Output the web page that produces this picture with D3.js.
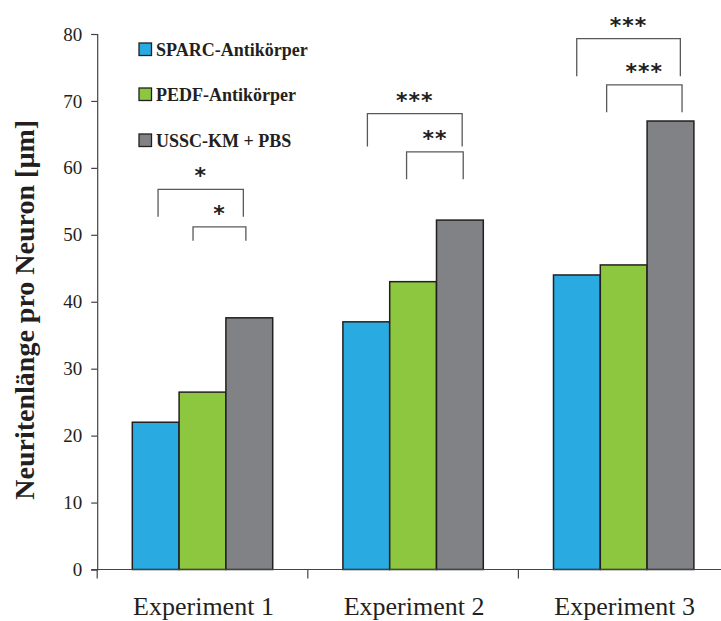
<!DOCTYPE html>
<html><head><meta charset="utf-8">
<script src="https://cdn.jsdelivr.net/npm/d3@7"></script>
<style>body{margin:0;background:#fff}svg{display:block}</style>
</head><body>
<svg id="c" width="721" height="621"></svg>
<script>
const categories = ["Experiment 1", "Experiment 2", "Experiment 3"];
const seriesNames = ["SPARC-Antikörper", "PEDF-Antikörper", "USSC-KM + PBS"];
const sparc = [22, 37, 44];
const pedf = [26.5, 43, 45.5];
const ussc = [37.6, 52.2, 67];
const yTicks = [0, 10, 20, 30, 40, 50, 60, 70, 80];
const yTitle = "Neuritenlänge pro Neuron [µm]";
// significance brackets: category, label, x ends as fraction of band, top value, leg-bottom value
const sigCategory = [0, 0, 1, 1, 2, 2];
const sigLabel = ["*", "*", "***", "**", "***", "***"];
const sigX0 = [0.289, 0.455, 0.283, 0.469, 0.277, 0.419];
const sigX1 = [0.694, 0.706, 0.733, 0.738, 0.769, 0.777];
const sigTop = [56.8, 51.2, 68.1, 62.4, 79.3, 72.4];
const sigBottom = [52.7, 49.1, 63.2, 58.3, 73.7, 68.3];

const colors = ["#29abe2", "#8dc63f", "#808285"];
const series = [sparc, pedf, ussc];

const svg = d3.select("#c");
const x0 = 97.2, y0 = 569.5, yTopPx = 34;
const x = d3.scaleBand().domain(categories).range([x0, x0 + 3 * 210.6]).paddingInner(0).paddingOuter(0);
const xs = d3.scaleBand().domain(d3.range(3)).range([0, x.bandwidth()]).paddingInner(0).paddingOuter(0.75);
const y = d3.scaleLinear().domain([0, 80]).range([y0, yTopPx]);

// y axis
const yAxis = svg.append("g").attr("transform", `translate(${x0},0)`)
  .call(d3.axisLeft(y).tickValues(yTicks).tickSize(6).tickPadding(9).tickFormat(d3.format("d")));
yAxis.select(".domain").attr("stroke", "#444").attr("stroke-width", 1.2);
yAxis.selectAll(".tick line").attr("stroke", "#444").attr("stroke-width", 1.2);
yAxis.selectAll("text").attr("font-family", "Liberation Serif, serif").attr("font-size", 19).attr("fill", "#231f20");

// bars
categories.forEach((c, i) => {
  series.forEach((s, j) => {
    svg.append("rect")
      .attr("x", x(c) + xs(j))
      .attr("y", y(s[i]))
      .attr("width", xs.bandwidth())
      .attr("height", y(0) - y(s[i]))
      .attr("fill", colors[j])
      .attr("stroke", "#231f20")
      .attr("stroke-width", 1.5);
  });
});

// x axis
const xAxisG = svg.append("g").attr("transform", `translate(0,${y0})`);
xAxisG.append("line").attr("x1", x0 - 6).attr("x2", 721).attr("stroke", "#444").attr("stroke-width", 1.2);
categories.forEach(c => {
  xAxisG.append("line").attr("x1", x(c)).attr("x2", x(c)).attr("y1", 0).attr("y2", 9).attr("stroke", "#444").attr("stroke-width", 1.2);
  xAxisG.append("text").attr("x", x(c) + x.bandwidth() / 2 + 1).attr("y", 45)
    .attr("text-anchor", "middle").attr("font-family", "Liberation Serif, serif")
    .attr("font-size", 26).attr("fill", "#231f20").text(c);
});

// y title
svg.append("text").attr("transform", `translate(34,${(y0 + yTopPx) / 2 + 8}) rotate(-90)`)
  .attr("text-anchor", "middle").attr("font-family", "Liberation Serif, serif")
  .attr("font-weight", "bold").attr("font-size", 28).attr("fill", "#231f20").text(yTitle);

// legend
const legY = [49.5, 94.5, 140.5];
seriesNames.forEach((n, j) => {
  svg.append("rect").attr("x", 139).attr("y", legY[j] - 6.5).attr("width", 12.5).attr("height", 12.5)
    .attr("fill", colors[j]).attr("stroke", "#231f20").attr("stroke-width", 1.3);
  svg.append("text").attr("x", 156).attr("y", legY[j] + 6)
    .attr("font-family", "Liberation Serif, serif").attr("font-weight", "bold")
    .attr("font-size", 18).attr("fill", "#231f20").text(n);
});

// significance brackets
sigLabel.forEach((lab, k) => {
  const c = categories[sigCategory[k]];
  const xa = x(c) + sigX0[k] * x.bandwidth();
  const xb = x(c) + sigX1[k] * x.bandwidth();
  svg.append("path")
    .attr("d", `M${xa},${y(sigBottom[k])}V${y(sigTop[k])}H${xb}V${y(sigBottom[k])}`)
    .attr("fill", "none").attr("stroke", "#58595b").attr("stroke-width", 1.3);
  svg.append("text").attr("x", (xa + xb) / 2).attr("y", y(sigTop[k]) - 6)
    .attr("text-anchor", "middle").attr("font-family", "DejaVu Sans, sans-serif")
    .attr("font-weight", "bold").attr("font-size", 22).attr("fill", "#231f20")
    .attr("letter-spacing", 1).text(lab);
});
</script>
</body></html>
